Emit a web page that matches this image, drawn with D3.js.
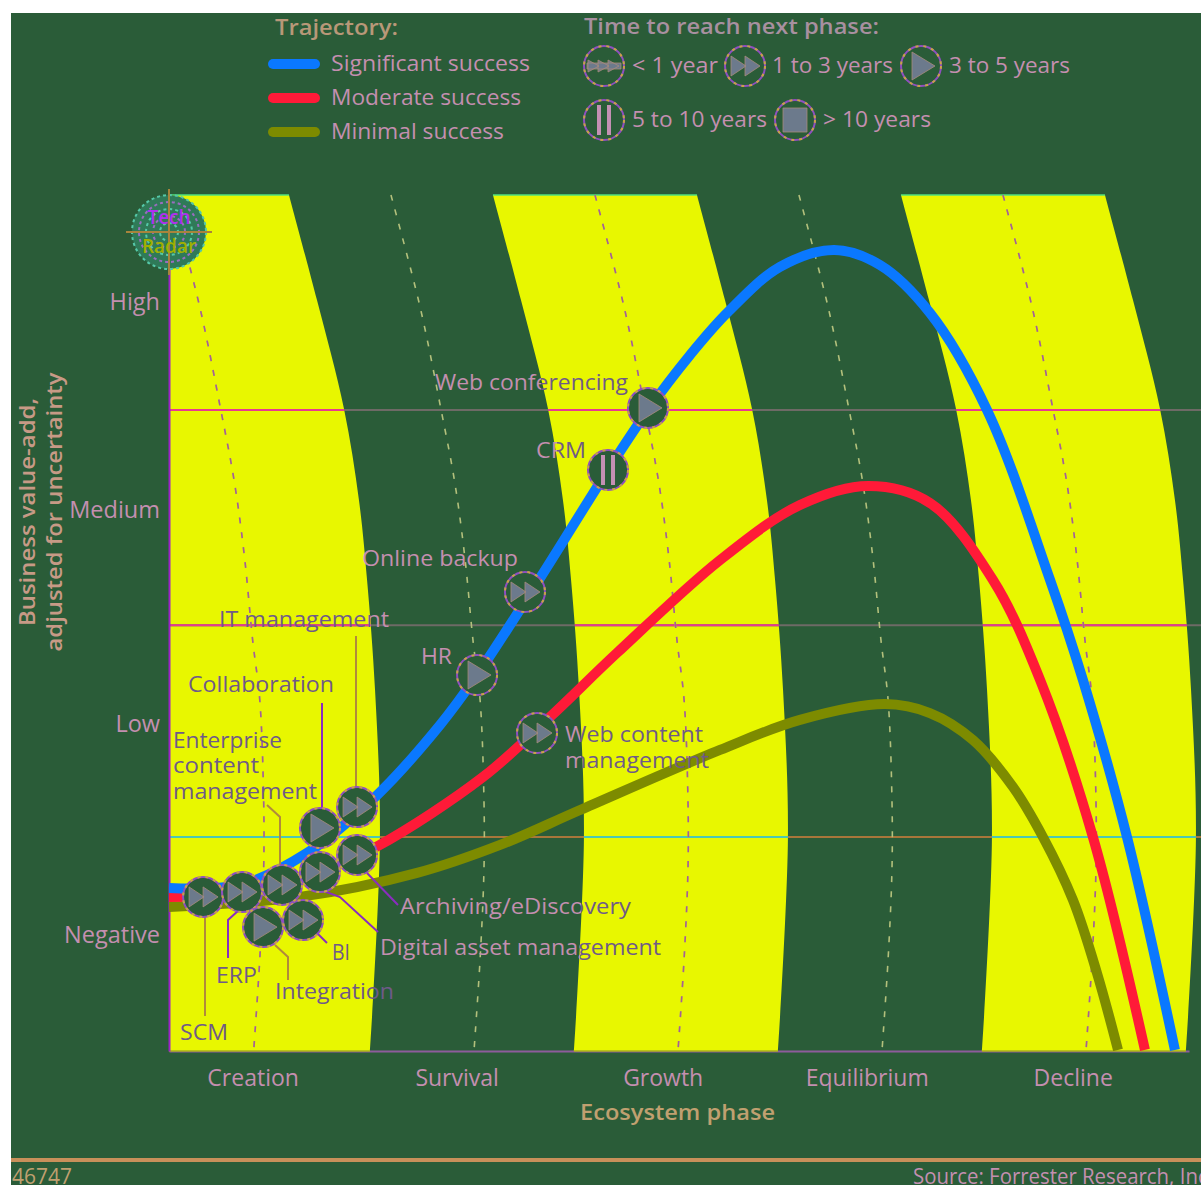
<!DOCTYPE html>
<html>
<head>
<meta charset="utf-8">
<script src="https://cdn.jsdelivr.net/npm/d3@7"></script>
<style>
  body { margin: 0; background: #fff; }
  svg { display: block; }
  text { font-family: "Open Sans", sans-serif; }
</style>
</head>
<body>
<div id="chart"></div>
<script>
// Phases run 0-5 along x, business value runs 0-4 along y
const phases = ['Creation', 'Survival', 'Growth', 'Equilibrium', 'Decline']
const phaseTicks = [0.41, 1.41, 2.42, 3.42, 4.43]
const valueLabels = ['Negative', 'Low', 'Medium', 'High']
const valueTicks = [0.54, 1.53, 2.53, 3.5]
const gridValues = [1, 1.99, 2.995]

const bandStarts = [0, 2, 4]
const bandEdge = [
    [0.588, 4], [0.725, 3.51], [0.858, 3], [0.931, 2.575], [0.971, 2.2],
    [1.01, 1.687], [1.034, 1], [0.985, 0]
]
const midShifts = [-1.08, 0, 1, 2, 3]
const midLine = [
    [1.088, 4], [1.23, 3.48], [1.333, 3], [1.402, 2.65], [1.451, 2.3], [1.49, 1.92],
    [1.525, 1.64], [1.544, 1.17], [1.544, 0.85], [1.525, 0.43], [1.495, 0]
]

const significant = [
    [0, 0.762], [0.348, 0.776], [0.676, 0.925], [1.02, 1.196], [1.328, 1.523], [1.51, 1.757],
    [1.819, 2.21], [2.152, 2.715], [2.348, 2.995], [2.554, 3.252], [2.74, 3.453], [2.995, 3.664],
    [3.26, 3.743], [3.485, 3.673], [3.73, 3.449], [4.01, 2.995], [4.319, 2.201], [4.48, 1.734],
    [4.696, 1], [4.931, 0.005]
]
const moderate = [
    [0, 0.72], [0.348, 0.738], [0.74, 0.836], [1.025, 0.958], [1.539, 1.28], [1.868, 1.561],
    [2.196, 1.86], [2.701, 2.294], [3.093, 2.551], [3.426, 2.64], [3.73, 2.561], [4.039, 2.201],
    [4.27, 1.734], [4.529, 1], [4.784, 0.005]
]
const minimal = [
    [0, 0.673], [0.642, 0.72], [1.216, 0.832], [1.623, 0.963], [2.015, 1.126], [2.701, 1.407],
    [3.093, 1.547], [3.51, 1.621], [3.73, 1.579], [3.941, 1.453], [4.137, 1.234], [4.284, 1],
    [4.431, 0.706], [4.549, 0.364], [4.652, 0.005]
]

const trajectoryNames = ['Significant success', 'Moderate success', 'Minimal success']
const trajectoryColors = ['#0a78ff', '#ff1a38', '#7d8b00']

const timeNames = ['< 1 year', '1 to 3 years', '3 to 5 years', '5 to 10 years', '> 10 years']
const timeGlyphs = ['fastest', 'fast', 'medium', 'slow', 'slowest']

const techNames = ['SCM', 'ERP', 'Integration', 'BI', 'Enterprise content management', 'Digital asset management',
    'Archiving/eDiscovery', 'Collaboration', 'IT management', 'HR', 'Online backup', 'CRM', 'Web conferencing', 'Web content management']
const techPhase = [0.167, 0.358, 0.461, 0.657, 0.554, 0.74, 0.922, 0.74, 0.922, 1.51, 1.745, 2.152, 2.348, 1.804]
const techValue = [0.72, 0.743, 0.579, 0.612, 0.776, 0.836, 0.916, 1.042, 1.14, 1.757, 2.145, 2.715, 3.005, 1.486]
const techGlyph = ['fast', 'fast', 'medium', 'fast', 'fast', 'fast', 'fast', 'medium', 'fast', 'medium', 'fast', 'slow', 'medium', 'fast']

const WIDTH = 1201
const HEIGHT = 1185
const GREEN = '#2a5c38'
const YELLOW = '#e8f700'
const PINK = '#c48fb0'
const MAUVE = '#6f5a88'
const GLYPH = '#6c7a8c'

const svg = d3.select('#chart')
    .append('svg')
    .attr('width', WIDTH)
    .attr('height', HEIGHT)

svg.append('rect')
    .attr('x', 11)
    .attr('y', 13)
    .attr('width', WIDTH - 11)
    .attr('height', HEIGHT - 13)
    .attr('fill', GREEN)

const xScale = d3.scaleLinear().domain([0, 5]).range([169, 1189])
const yScale = d3.scaleLinear().domain([0, 4]).range([1051, 195])

const defs = svg.append('defs')
defs.append('clipPath')
    .attr('id', 'plot-clip')
    .append('rect')
    .attr('x', 169)
    .attr('y', 190)
    .attr('width', WIDTH - 169)
    .attr('height', 861)

// axes go in first so the yellow bands sit over the baseline
const xAxis = d3.axisBottom(xScale)
    .tickValues(phaseTicks)
    .tickFormat((d, i) => phases[i])
    .tickSize(0)
    .tickPadding(19)

const xAxisGroup = svg.append('g')
    .attr('transform', `translate(0, ${yScale(0)})`)
    .call(xAxis)
xAxisGroup.select('.domain').attr('stroke', '#8d5c9c').attr('stroke-width', 2)
xAxisGroup.selectAll('text').attr('fill', PINK).style('font-size', '23px')

const bandArea = start => d3.area()
    .curve(d3.curveCatmullRom)
    .y(d => yScale(d[1]))
    .x0(d => xScale(start === 0 ? 0 : d[0] + start - 1))
    .x1(d => xScale(d[0] + start))

const bandClip = defs.append('clipPath').attr('id', 'band-clip')
bandStarts.forEach(s => {
    bandClip.append('path').attr('d', bandArea(s)(bandEdge))
})

// yellow phases
svg.append('g')
    .selectAll('path')
    .data(bandStarts)
    .join('path')
    .attr('d', s => bandArea(s)(bandEdge))
    .attr('fill', YELLOW)

// thin edges along the top and the bottom of each band
const drawBandEdge = (row, color) => {
    svg.append('g')
        .selectAll('line')
        .data(bandStarts)
        .join('line')
        .attr('x1', s => xScale(s === 0 ? 0 : row[0] + s - 1))
        .attr('x2', s => xScale(row[0] + s))
        .attr('y1', yScale(row[1]))
        .attr('y2', yScale(row[1]))
        .attr('stroke', color)
        .attr('stroke-width', 1.5)
}
drawBandEdge(bandEdge[0], '#4fe07c')
drawBandEdge(bandEdge[bandEdge.length - 1], '#a9b21c')

// horizontal value lines, one colour on the dark ground and another on yellow
const gridDark = ['#a8763a', '#6e6a66', '#6e6a66']
const gridLight = ['#4cc8b4', '#e83a90', '#e83a90']
const drawGrid = (colors, clip) => {
    const g = svg.append('g')
    if (clip) g.attr('clip-path', 'url(#band-clip)')
    g.selectAll('line')
        .data(gridValues)
        .join('line')
        .attr('x1', xScale(0))
        .attr('x2', WIDTH)
        .attr('y1', d => yScale(d))
        .attr('y2', d => yScale(d))
        .attr('stroke', (d, i) => colors[i])
        .attr('stroke-width', 2)
}
drawGrid(gridDark, false)
drawGrid(gridLight, true)

// dashed centre line of each phase
const midPath = d3.line()
    .curve(d3.curveCatmullRom)
    .x(d => xScale(d[0]))
    .y(d => yScale(d[1]))
const drawMids = (color, clip) => {
    const g = svg.append('g')
    if (clip) g.attr('clip-path', 'url(#band-clip)')
    g.selectAll('path')
        .data(midShifts)
        .join('path')
        .attr('d', s => midPath(midLine.map(p => [p[0] + s, p[1]])))
        .attr('fill', 'none')
        .attr('stroke', color)
        .attr('stroke-width', 1.6)
        .attr('stroke-dasharray', '6 9')
}
drawMids('#b3c07c', false)
drawMids('#a8608e', true)

const yAxis = d3.axisLeft(yScale)
    .tickValues(valueTicks)
    .tickFormat((d, i) => valueLabels[i])
    .tickSize(0)
    .tickPadding(9)

const yAxisGroup = svg.append('g')
    .attr('transform', `translate(${xScale(0)}, 0)`)
    .call(yAxis)
yAxisGroup.select('.domain').attr('stroke', '#9a22c8').attr('stroke-width', 2)
yAxisGroup.selectAll('text').attr('fill', PINK).style('font-size', '23.5px')

// trajectories
const curvePath = d3.line()
    .curve(d3.curveCatmullRom)
    .x(d => xScale(d[0]))
    .y(d => yScale(d[1]))

svg.append('g')
    .attr('clip-path', 'url(#plot-clip)')
    .selectAll('path')
    .data([minimal, moderate, significant])
    .join('path')
    .attr('d', curvePath)
    .attr('fill', 'none')
    .attr('stroke', (d, i) => trajectoryColors[2 - i])
    .attr('stroke-width', 10)

// leader lines from the crowded markers to their labels
const leaders = [
    { color: '#b08a3c', points: [[205, 916], [205, 1016]] },
    { color: '#8a2cc0', points: [[239, 910], [228, 920], [228, 958]] },
    { color: '#b08a3c', points: [[275, 945], [288, 957], [288, 980]] },
    { color: '#8a2cc0', points: [[316, 932], [327, 943]] },
    { color: '#b08a3c', points: [[267, 805], [280, 817], [280, 868]] },
    { color: '#8a2cc0', points: [[302, 883], [340, 897], [378, 932]] },
    { color: '#8a2cc0', points: [[367, 873], [398, 905]] },
    { color: '#8a2cc0', points: [[322, 703], [322, 810]] },
    { color: '#b08a3c', points: [[356, 636], [356, 790]] }
]
svg.append('g')
    .selectAll('polyline')
    .data(leaders)
    .join('polyline')
    .attr('points', d => d.points.join(' '))
    .attr('fill', 'none')
    .attr('stroke', d => d.color)
    .attr('stroke-width', 2)

// speed symbol inside a marker ring
const triangle = (x, y, w, h) => `M${x},${y - h}L${x + w},${y}L${x},${y + h}Z`
const glyphPath = type => {
    if (type === 'fastest') return triangle(-16, 0, 11, 6) + triangle(-6, 0, 11, 6) + triangle(4, 0, 11, 6) + 'M-17,-3H17V3H-17Z'
    if (type === 'fast') return triangle(-14, 0, 15, 10) + triangle(0, 0, 15, 10)
    if (type === 'medium') return triangle(-9, 0, 23, 14)
    if (type === 'slow') return 'M-7,-15H-3V15H-7ZM3,-15H7V15H3Z'
    return 'M-12,-12H12V12H-12Z'
}

const drawMarker = (group, x, y, type) => {
    const g = group.append('g').attr('transform', `translate(${x}, ${y})`)
    g.append('circle')
        .attr('r', 20)
        .attr('fill', GREEN)
        .attr('stroke', '#8f4fc0')
        .attr('stroke-width', 2)
    g.append('circle')
        .attr('r', 20)
        .attr('fill', 'none')
        .attr('stroke', '#c9a248')
        .attr('stroke-width', 2)
        .attr('stroke-dasharray', '3 5')
    g.append('path')
        .attr('d', glyphPath(type))
        .attr('fill', type === 'slow' ? '#c590b4' : GLYPH)
        .attr('stroke', type === 'slow' ? 'none' : '#a88c7c')
        .attr('stroke-width', 0.8)
}

const markers = svg.append('g')
techNames.forEach((name, i) => {
    drawMarker(markers, xScale(techPhase[i]), yScale(techValue[i]), techGlyph[i])
})

// text helper, the width pins each label to its measured run
const label = (x, y, text, width, color, bold) => {
    return svg.append('text')
        .attr('x', x)
        .attr('y', y)
        .attr('textLength', width)
        .attr('lengthAdjust', 'spacingAndGlyphs')
        .attr('fill', color)
        .attr('font-weight', bold ? 600 : 400)
        .style('font-size', '21px')
        .text(text)
}

// labels that run across a band edge change colour at that edge
let splitCount = 0
const splitLabel = (x, y, text, width, edge, leftColor, rightColor) => {
    const id = `split-${splitCount++}`
    const grad = defs.append('linearGradient')
        .attr('id', id)
        .attr('gradientUnits', 'userSpaceOnUse')
        .attr('x1', x)
        .attr('x2', x + width)
        .attr('y1', 0)
        .attr('y2', 0)
    const at = (edge - x) / width
    grad.append('stop').attr('offset', at).attr('stop-color', leftColor)
    grad.append('stop').attr('offset', at).attr('stop-color', rightColor)
    label(x, y, text, width, `url(#${id})`)
}

splitLabel(435, 390, 'Web conferencing', 193, 541, PINK, MAUVE)
splitLabel(536, 458, 'CRM', 50, 557, PINK, MAUVE)
label(362, 566, 'Online backup', 156, PINK)
label(421, 664, 'HR', 31, PINK)
splitLabel(219, 627, 'IT management', 170, 370, MAUVE, PINK)
label(188, 692, 'Collaboration', 146, MAUVE)
label(173, 748, 'Enterprise', 109, MAUVE)
label(173, 773, 'content', 86, MAUVE)
label(173, 799, 'management', 144, MAUVE)
splitLabel(565, 742, 'Web content', 138, 580, PINK, MAUVE)
splitLabel(565, 768, 'management', 144, 581, PINK, MAUVE)
splitLabel(400, 914, 'Archiving/eDiscovery', 231, 581, PINK, MAUVE)
splitLabel(380, 955, 'Digital asset management', 281, 580, PINK, MAUVE)
label(216, 983, 'ERP', 41, MAUVE)
label(332, 960, 'BI', 18, MAUVE)
label(275, 999, 'Integration', 119, MAUVE)
label(180, 1040, 'SCM', 48, MAUVE)

// axis titles
label(580, 1120, 'Ecosystem phase', 195, '#c0a070', true)
const yTitle = (x, text, length) => {
    svg.append('text')
        .attr('transform', `translate(${x}, 512) rotate(-90)`)
        .attr('text-anchor', 'middle')
        .attr('textLength', length)
        .attr('lengthAdjust', 'spacingAndGlyphs')
        .attr('fill', '#c79a86')
        .attr('font-weight', 600)
        .style('font-size', '21px')
        .text(text)
}
yTitle(35, 'Business value-add,', 228)
yTitle(62, 'adjusted for uncertainty', 279)

// radar badge in the corner of the plot
const badge = svg.append('g').attr('transform', `translate(${xScale(0)}, ${yScale(3.827)})`)
badge.selectAll('circle')
    .data([37, 30, 23, 16, 9])
    .join('circle')
    .attr('r', d => d)
    .attr('fill', (d, i) => i === 0 ? '#2f7a58' : 'none')
    .attr('stroke', (d, i) => i % 2 === 0 ? '#55c8a8' : '#9a6cc0')
    .attr('stroke-width', 2)
    .attr('stroke-dasharray', '3 3')
badge.append('line').attr('x1', -43).attr('x2', 43).attr('stroke', '#a8843c').attr('stroke-width', 2)
badge.append('line').attr('y1', -43).attr('y2', 43).attr('stroke', '#a8843c').attr('stroke-width', 2)
badge.append('text')
    .attr('y', -8)
    .attr('text-anchor', 'middle')
    .attr('fill', '#b030f0')
    .attr('font-weight', 600)
    .style('font-size', '19px')
    .text('Tech')
badge.append('text')
    .attr('y', 21)
    .attr('text-anchor', 'middle')
    .attr('fill', '#a0b000')
    .attr('font-weight', 600)
    .style('font-size', '19px')
    .text('Radar')

// trajectory legend
label(275, 35, 'Trajectory:', 123, '#b89878', true)
const trajectoryWidths = [199, 190, 173]
trajectoryNames.forEach((name, i) => {
    const y = 64 + i * 34
    svg.append('line')
        .attr('x1', 273)
        .attr('x2', 315)
        .attr('y1', y)
        .attr('y2', y)
        .attr('stroke', trajectoryColors[i])
        .attr('stroke-width', 10)
        .attr('stroke-linecap', 'round')
    label(331, y + 7, name, trajectoryWidths[i], PINK)
})

// time-to-next-phase legend
label(584, 34, 'Time to reach next phase:', 295, '#a890a0', true)
const timeLayout = [
    { cx: 604, cy: 66, tx: 632, w: 86 },
    { cx: 745, cy: 66, tx: 772, w: 121 },
    { cx: 921, cy: 66, tx: 949, w: 121 },
    { cx: 604, cy: 120, tx: 632, w: 135 },
    { cx: 795, cy: 120, tx: 823, w: 108 }
]
const legendMarkers = svg.append('g')
timeNames.forEach((name, i) => {
    const pos = timeLayout[i]
    drawMarker(legendMarkers, pos.cx, pos.cy, timeGlyphs[i])
    label(pos.tx, pos.cy + 7, name, pos.w, PINK)
})

// footer rule and notes
svg.append('rect')
    .attr('x', 11)
    .attr('y', 1158)
    .attr('width', WIDTH - 11)
    .attr('height', 4)
    .attr('fill', '#c8905a')
label(12, 1184, '46747', 60, '#c0a070')
label(913, 1184, 'Source: Forrester Research, Inc.', 300, PINK)
</script>
</body>
</html>
